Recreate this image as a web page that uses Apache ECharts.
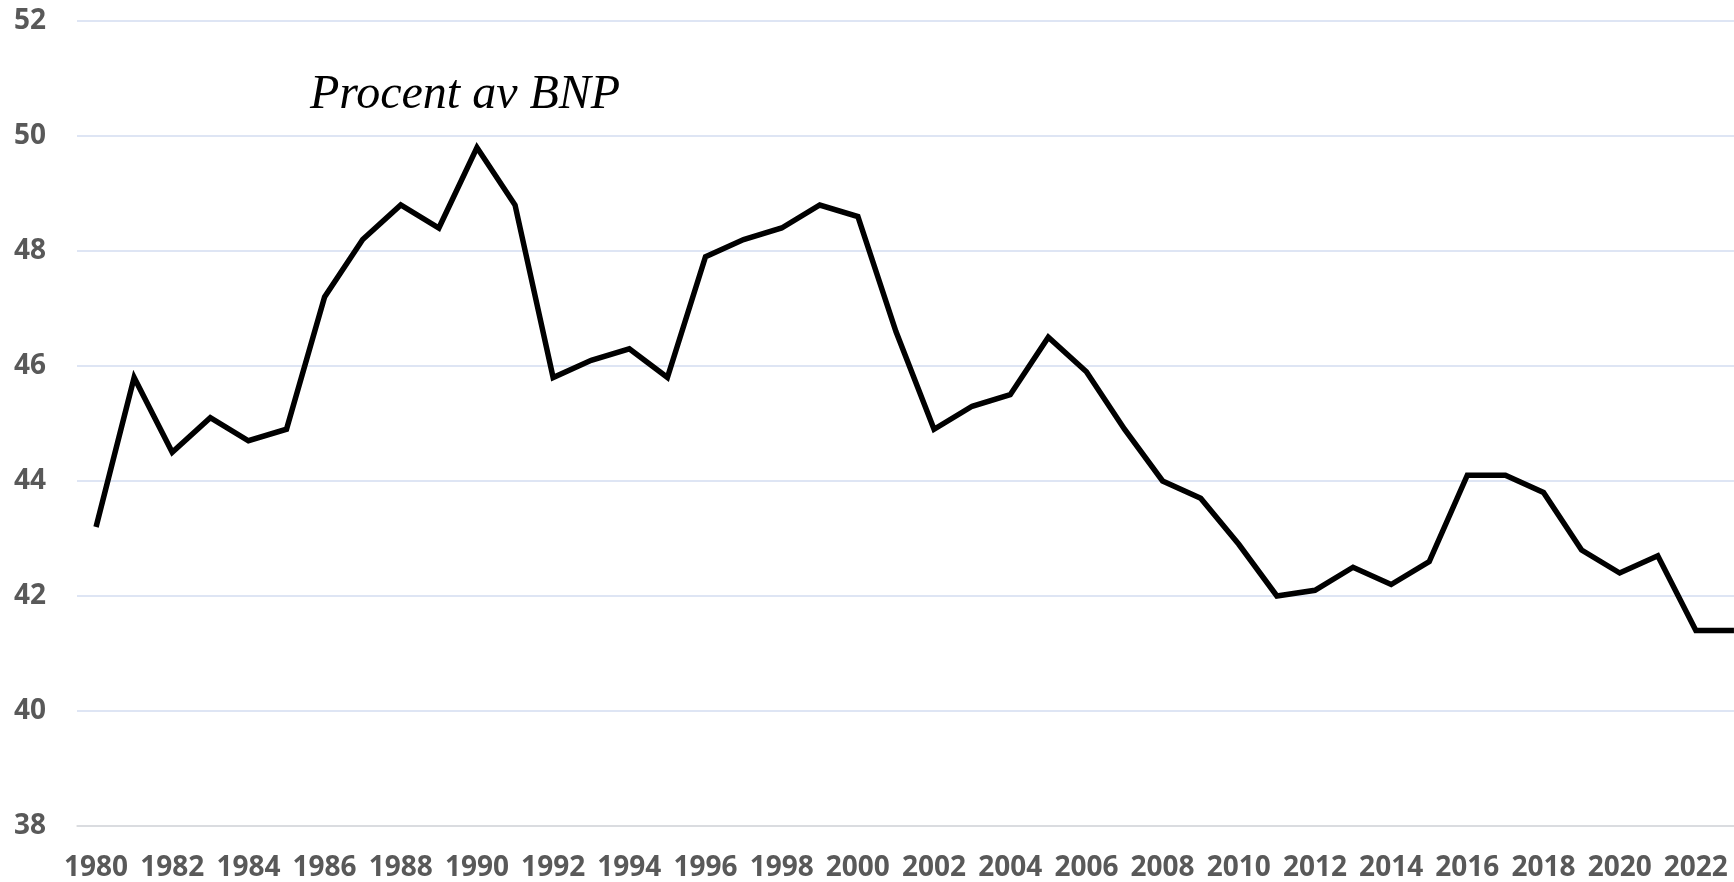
<!DOCTYPE html>
<html lang="sv">
<head>
    <meta charset="UTF-8">
    <title>Procent av BNP</title>
    <script src="https://cdn.jsdelivr.net/npm/echarts@6/dist/echarts.min.js"></script>
    <style>
        html, body { margin: 0; padding: 0; background: #fff; }
        #chart { width: 1734px; height: 882px; }
    </style>
</head>
<body>
<div id="chart"></div>
<script type="text/javascript">
// år och andel av BNP
var years = [];
for (var y = 1980; y <= 2023; y++) { years.push(String(y)); }
var values = [
    43.2, 45.8, 44.5, 45.1, 44.7, 44.9, 47.2, 48.2, 48.8, 48.4,
    49.8, 48.8, 45.8, 46.1, 46.3, 45.8, 47.9, 48.2, 48.4, 48.8,
    48.6, 46.6, 44.9, 45.3, 45.5, 46.5, 45.9, 44.9, 44.0, 43.7,
    42.9, 42.0, 42.1, 42.5, 42.2, 42.6, 44.1, 44.1, 43.8, 42.8,
    42.4, 42.7, 41.4, 41.4
];
var yMin = 38, yMax = 52, yStep = 2;
var titleText = 'Procent av BNP';

var chart = echarts.init(document.getElementById('chart'));
chart.setOption({
    animation: false,
    title: {
        text: titleText,
        left: 305,
        top: 66,
        textStyle: {
            fontFamily: 'Liberation Serif',
            fontStyle: 'italic',
            fontWeight: 'normal',
            fontSize: 48,
            color: '#000'
        }
    },
    // sista kategorin hamnar utanför bildkanten, som i originalet
    grid: { left: 77, width: 1676, top: 21, bottom: 56, outerBoundsMode: 'none' },
    xAxis: {
        type: 'category',
        data: years,
        boundaryGap: true,
        axisTick: { show: false },
        axisLine: { lineStyle: { color: '#d9d9d9', width: 1.5 } },
        axisLabel: {
            interval: 1,
            margin: 28,
            fontFamily: 'Open Sans',
            fontWeight: 'bold',
            fontSize: 28,
            color: '#595959'
        }
    },
    yAxis: {
        type: 'value',
        min: yMin,
        max: yMax,
        interval: yStep,
        axisLine: { show: false },
        axisTick: { show: false },
        splitLine: { lineStyle: { color: '#d3ddf0', width: 1.5 } },
        axisLabel: {
            margin: 31,
            fontFamily: 'Open Sans',
            fontWeight: 'bold',
            fontSize: 28,
            color: '#595959'
        }
    },
    series: [{
        type: 'line',
        data: values,
        symbol: 'none',
        lineStyle: { color: '#000', width: 5.5, join: 'miter' }
    }]
});
</script>
</body>
</html>
